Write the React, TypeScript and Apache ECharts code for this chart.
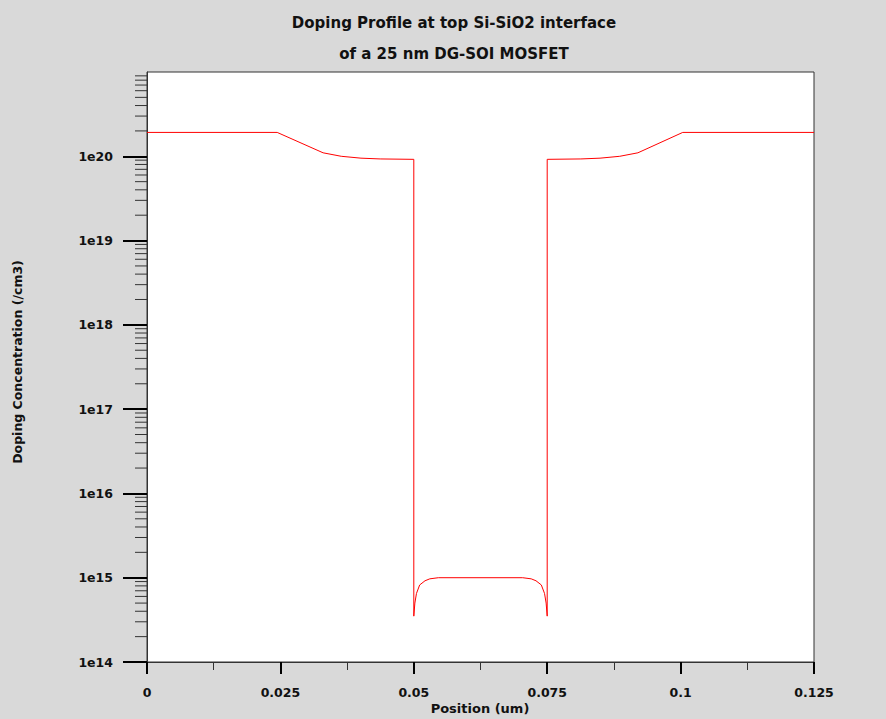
import React, { useEffect, useRef } from "react";
import * as echarts from "echarts";

const titleLines = ["Doping Profile at top Si-SiO2 interface", "of a 25 nm DG-SOI MOSFET"];
const xAxisTitle = "Position (um)";
const yAxisTitle = "Doping Concentration (/cm3)";

const xTicks = [0, 0.025, 0.05, 0.075, 0.1, 0.125];
const yDecades = [14, 15, 16, 17, 18, 19, 20, 21];
const minorMultipliers = [2, 3, 4, 5, 6, 7, 8, 9];

const positions = [
  0, 0.0244, 0.033, 0.0364, 0.0401, 0.0437, 0.05, 0.05, 0.0502, 0.0505, 0.0511, 0.0521, 0.053,
  0.0546, 0.0704, 0.072, 0.0729, 0.0739, 0.0745, 0.0748, 0.075, 0.075, 0.0813, 0.0849, 0.0886,
  0.092, 0.1004, 0.125,
];
const doping = [
  1.92e20, 1.92e20, 1.1e20, 1.0e20, 9.5e19, 9.3e19, 9.2e19, 3.5e14, 5e14, 6.5e14, 8.2e14, 9.2e14,
  9.7e14, 1e15, 1e15, 9.7e14, 9.2e14, 8.2e14, 6.5e14, 5e14, 3.5e14, 9.2e19, 9.3e19, 9.5e19, 1.0e20,
  1.1e20, 1.92e20, 1.92e20,
];

const FONT = '"DejaVu Sans", "Liberation Sans", Arial, sans-serif';

export default function App() {
  const ref = useRef<HTMLDivElement>(null);
  useEffect(() => {
    if (!ref.current) return;
    const chart = echarts.init(ref.current, undefined, { renderer: "svg" });
    const yMin = Math.pow(10, yDecades[0]);
    const yMax = Math.pow(10, yDecades[yDecades.length - 1]);
    const minorData: number[][] = [];
    for (let d = yDecades[0]; d < yDecades[yDecades.length - 1]; d++) {
      for (const m of minorMultipliers) minorData.push([xTicks[0], m * Math.pow(10, d)]);
    }
    const data = positions.map((p, i) => [p, doping[i]]);
    chart.setOption({
      animation: false,
      backgroundColor: "#d9d9d9",
      grid: {
        left: 147,
        top: 72,
        right: 72,
        bottom: 57,
        show: true,
        backgroundColor: "#ffffff",
        borderColor: "#333333",
        borderWidth: 1,
      },
      xAxis: {
        type: "value",
        min: xTicks[0],
        max: xTicks[xTicks.length - 1],
        interval: 0.025,
        axisLine: { show: true, lineStyle: { color: "#333333", width: 1 } },
        axisTick: { show: true, length: 12, lineStyle: { color: "#000000", width: 2 } },
        minorTick: { show: true, splitNumber: 2, length: 8, lineStyle: { color: "#333333", width: 1 } },
        splitLine: { show: false },
        axisLabel: {
          margin: 24,
          color: "#111111",
          fontFamily: FONT,
          fontWeight: "bold",
          fontSize: 12.5,
          formatter: (v: number) => String(parseFloat(v.toFixed(4))),
        },
      },
      yAxis: {
        type: "log",
        position: "left",
        logBase: 10,
        min: yMin,
        max: yMax,
        interval: 1,
        axisLine: { show: true, lineStyle: { color: "#333333", width: 1 } },
        axisTick: { show: true, inside: false, length: 24, lineStyle: { color: "#000000", width: 2 } },
        splitLine: { show: false },
        axisLabel: {
          margin: 34,
          align: "right",
          verticalAlign: "middle",
          showMaxLabel: false,
          color: "#111111",
          fontFamily: FONT,
          fontWeight: "bold",
          fontSize: 12.5,
          formatter: (v: number) => "1e" + Math.round(Math.log10(v)),
        },
      },
      series: [
        {
          type: "custom",
          silent: true,
          clip: false,
          data: minorData,
          encode: { x: 0, y: 1 },
          renderItem: (params: any, api: any) => {
            const p = api.coord([api.value(0), api.value(1)]);
            return {
              type: "line",
              shape: { x1: p[0] - 12, y1: p[1], x2: p[0], y2: p[1] },
              style: { stroke: "#333333", lineWidth: 1 },
            };
          },
        },
        {
          type: "line",
          data,
          showSymbol: false,
          symbol: "none",
          lineStyle: { color: "#ff0000", width: 1 },
          itemStyle: { color: "#ff0000" },
        },
      ],
      graphic: [
        {
          type: "text",
          x: 454,
          y: 23,
          style: { text: titleLines[0], fill: "#111111", font: `bold 15px ${FONT}`, align: "center", verticalAlign: "middle" },
        },
        {
          type: "text",
          x: 454,
          y: 54,
          style: { text: titleLines[1], fill: "#111111", font: `bold 15px ${FONT}`, align: "center", verticalAlign: "middle" },
        },
        {
          type: "text",
          x: 480,
          y: 708,
          style: { text: xAxisTitle, fill: "#111111", font: `bold 13px ${FONT}`, align: "center", verticalAlign: "middle" },
        },
        {
          type: "text",
          x: 17,
          y: 362,
          rotation: Math.PI / 2,
          style: { text: yAxisTitle, fill: "#111111", font: `bold 12.5px ${FONT}`, align: "center", verticalAlign: "middle" },
        },
      ],
    });
    return () => chart.dispose();
  }, []);
  return <div ref={ref} style={{ position: "absolute", left: 0, top: 0, width: 886, height: 719 }} />;
}
